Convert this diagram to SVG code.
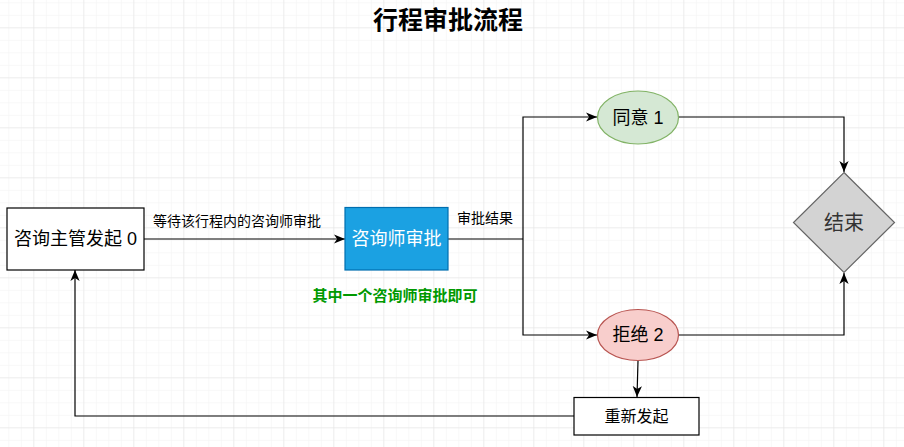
<svg xmlns="http://www.w3.org/2000/svg" width="904" height="447" viewBox="0 0 904 447">
  <defs>
    <pattern id="gridMinor" x="8.33" y="2.33" width="12.5" height="12.5" patternUnits="userSpaceOnUse">
      <path d="M0 0H12.5M0 0V12.5" fill="none" stroke="#f2f2f2" stroke-width="1"/>
    </pattern>
    <pattern id="gridMajor" x="33.33" y="27.33" width="50" height="50" patternUnits="userSpaceOnUse">
      <path d="M0 0H50M0 0V50" fill="none" stroke="#e3e3e3" stroke-width="1"/>
    </pattern>
    <marker id="arrow" viewBox="0 0 10 10" refX="10" refY="5" markerWidth="11" markerHeight="11" markerUnits="userSpaceOnUse" orient="auto">
      <path d="M0 0.8L10 5L0 9.2L2.8 5Z" fill="#000"/>
    </marker>
  </defs>
  <style>
    text { font-family: "Liberation Sans", "Noto Sans CJK SC", sans-serif; text-anchor: middle; dominant-baseline: central; }
    .node { stroke-width: 1.2; }
    .edge { fill: none; stroke: #000; stroke-width: 1.2; marker-end: url(#arrow); }
    .plain { fill: none; stroke: #000; stroke-width: 1.2; }
    .label { font-size: 14px; fill: #000; }
  </style>

  <!-- background grid -->
  <rect width="904" height="447" fill="#fff"/>
  <rect width="904" height="447" fill="url(#gridMinor)"/>
  <rect width="904" height="447" fill="url(#gridMajor)"/>

  <text x="448" y="20" font-size="25" font-weight="bold" fill="#000">行程审批流程</text>

  <g id="connectors">
    <path class="edge" d="M144 239H345"/>
    <path class="plain" d="M448 239H523"/>
    <path class="edge" d="M523 239V117H597"/>
    <path class="edge" d="M523 239V335H597"/>
    <path class="edge" d="M678 117H844V172"/>
    <path class="edge" d="M678 335H844V273"/>
    <path class="edge" d="M638 361L637 397"/>
    <path class="edge" d="M574 416H75V270"/>
    <text class="label" x="237" y="221">等待该行程内的咨询师审批</text>
    <text class="label" x="485" y="218">审批结果</text>
  </g>

  <g id="start">
    <rect class="node" x="7" y="208" width="137" height="62" fill="#fff" stroke="#000"/>
    <text x="75.5" y="239" font-size="18" fill="#000">咨询主管发起 0</text>
  </g>

  <g id="review">
    <rect class="node" x="345" y="207.5" width="103" height="62.5" fill="#1ba1e2" stroke="#006eaf"/>
    <text x="396.5" y="239" font-size="18" fill="#fff">咨询师审批</text>
  </g>

  <g id="note">
    <text x="395" y="295.5" font-size="15" font-weight="bold" fill="#009900">其中一个咨询师审批即可</text>
  </g>

  <g id="approve">
    <ellipse class="node" cx="638" cy="117.5" rx="40.5" ry="26.5" fill="#d5e8d4" stroke="#82b366"/>
    <text x="638" y="117.5" font-size="18" fill="#000">同意 1</text>
  </g>

  <g id="reject">
    <ellipse class="node" cx="638" cy="335" rx="40.5" ry="25.5" fill="#f8cecc" stroke="#b85450"/>
    <text x="638" y="335" font-size="18" fill="#000">拒绝 2</text>
  </g>

  <g id="end">
    <path class="node" d="M844 172.5L894.5 222.5L844 272.5L793.5 222.5Z" fill="#d3d3d3" stroke="#666"/>
    <text x="844" y="222.5" font-size="20" fill="#333">结束</text>
  </g>

  <g id="restart">
    <rect class="node" x="574" y="397.5" width="125" height="37.5" fill="#fff" stroke="#000"/>
    <text x="636.5" y="416" font-size="16" fill="#000">重新发起</text>
  </g>
</svg>
